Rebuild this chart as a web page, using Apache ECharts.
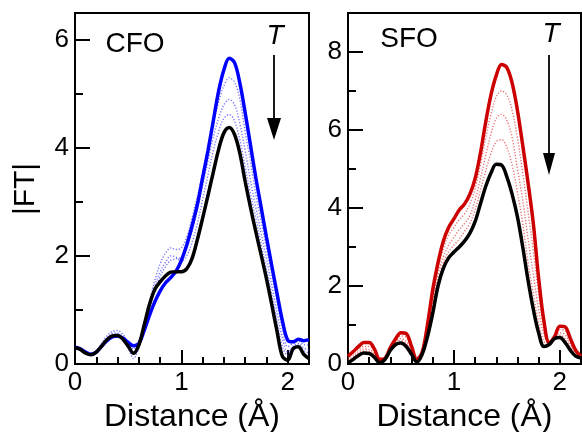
<!DOCTYPE html>
<html>
<head>
<meta charset="utf-8">
<script src="https://cdn.jsdelivr.net/npm/echarts@6/dist/echarts.min.js"></script>
<style>
html, body { margin: 0; padding: 0; background: #fff; }
#main { width: 582px; height: 432px; }
</style>
</head>
<body>
<div id="main"></div>
<script>
// distance grid (Å)
var dist = [0, 0.05, 0.1, 0.15, 0.2, 0.25, 0.3, 0.35, 0.4, 0.45, 0.5, 0.55, 0.6, 0.65, 0.7, 0.75, 0.8, 0.85, 0.9, 0.95,
            1.0, 1.05, 1.1, 1.15, 1.2, 1.25, 1.3, 1.35, 1.4, 1.45, 1.5, 1.55, 1.6, 1.65, 1.7, 1.75, 1.8, 1.85, 1.9, 1.95,
            2.0, 2.05, 2.1, 2.15, 2.2];

// CFO: lowest T (blue), highest T (black), a few in between (dotted)
var cfoBlue = [0.31, 0.28, 0.22, 0.18, 0.22, 0.33, 0.43, 0.5, 0.52, 0.48, 0.4, 0.34, 0.38, 0.62, 0.9, 1.15, 1.35, 1.5, 1.6, 1.72,
               1.92, 2.2, 2.55, 2.95, 3.45, 3.95, 4.5, 5.05, 5.45, 5.66, 5.58, 5.2, 4.65, 4.05, 3.45, 2.9, 2.35, 1.82, 1.3, 0.8,
               0.44, 0.41, 0.46, 0.43, 0.45];
var cfoBlack = [0.3, 0.27, 0.2, 0.17, 0.22, 0.33, 0.45, 0.52, 0.53, 0.46, 0.33, 0.2, 0.35, 0.72, 1.1, 1.38, 1.52, 1.63, 1.7, 1.71,
                1.71, 1.76, 1.95, 2.3, 2.7, 3.12, 3.55, 3.97, 4.28, 4.38, 4.25, 3.9, 3.38, 2.9, 2.45, 2.02, 1.58, 1.1, 0.6, 0.14,
                0.07, 0.28, 0.32, 0.18, 0.1];
var cfoMid1 = [0.3, 0.27, 0.21, 0.17, 0.23, 0.38, 0.52, 0.6, 0.62, 0.55, 0.4, 0.28, 0.4, 0.75, 1.15, 1.55, 1.85, 2.05, 2.15, 2.12,
               2.15, 2.35, 2.7, 3.1, 3.55, 4.0, 4.45, 4.85, 5.15, 5.3, 5.22, 4.9, 4.3, 3.75, 3.15, 2.65, 2.15, 1.65, 1.15, 0.65,
               0.32, 0.38, 0.42, 0.36, 0.35];
var cfoMid2 = [0.3, 0.26, 0.2, 0.16, 0.22, 0.35, 0.48, 0.56, 0.57, 0.5, 0.35, 0.18, 0.32, 0.68, 1.05, 1.38, 1.62, 1.8, 1.92, 1.95,
               1.98, 2.15, 2.45, 2.85, 3.3, 3.75, 4.2, 4.55, 4.8, 4.9, 4.8, 4.45, 3.95, 3.4, 2.9, 2.42, 1.95, 1.45, 0.95, 0.48,
               0.22, 0.33, 0.38, 0.3, 0.25];
var cfoMid3 = [0.29, 0.26, 0.2, 0.17, 0.21, 0.32, 0.45, 0.53, 0.55, 0.47, 0.3, 0.1, 0.3, 0.7, 1.1, 1.45, 1.7, 1.88, 2.0, 1.98,
               1.9, 2.0, 2.25, 2.6, 3.05, 3.5, 3.95, 4.3, 4.55, 4.62, 4.5, 4.15, 3.65, 3.15, 2.7, 2.22, 1.75, 1.28, 0.78, 0.32,
               0.16, 0.3, 0.35, 0.25, 0.2];

// SFO: lowest T (red), highest T (black), a few in between (dotted)
var sfoRed = [0.2, 0.32, 0.45, 0.55, 0.55, 0.38, 0.12, 0.15, 0.42, 0.65, 0.8, 0.78, 0.45, 0.12, 0.3, 1.0, 1.9, 2.6, 3.15, 3.5,
              3.72, 3.95, 4.1, 4.35, 4.75, 5.4, 6.2, 6.9, 7.4, 7.68, 7.6, 7.2, 6.5, 5.6, 4.65, 3.6, 2.2, 1.1, 0.55, 0.7,
              0.97, 0.95, 0.65, 0.35, 0.2];
var sfoBlack = [0.03, 0.12, 0.22, 0.28, 0.27, 0.17, 0.03, 0.12, 0.35, 0.5, 0.54, 0.45, 0.25, 0.05, 0.25, 0.7, 1.3, 2.0, 2.45, 2.72,
                2.87, 3.0, 3.15, 3.35, 3.65, 4.1, 4.55, 4.9, 5.12, 5.1, 4.8, 4.35, 3.77, 3.0, 2.15, 1.4, 0.8, 0.45, 0.5, 0.65,
                0.68, 0.55, 0.35, 0.2, 0.15];
var sfoMid1 = [0.15, 0.27, 0.38, 0.45, 0.45, 0.32, 0.1, 0.13, 0.4, 0.6, 0.72, 0.68, 0.42, 0.1, 0.3, 0.92, 1.75, 2.45, 2.95, 3.3,
               3.5, 3.7, 3.85, 4.1, 4.5, 5.1, 5.8, 6.4, 6.85, 7.0, 6.9, 6.5, 5.8, 4.9, 3.9, 2.9, 1.8, 0.95, 0.52, 0.65,
               0.88, 0.85, 0.58, 0.32, 0.18];
var sfoMid2 = [0.1, 0.2, 0.32, 0.38, 0.37, 0.25, 0.07, 0.13, 0.38, 0.57, 0.65, 0.58, 0.35, 0.08, 0.28, 0.85, 1.6, 2.3, 2.75, 3.05,
               3.25, 3.45, 3.6, 3.8, 4.2, 4.75, 5.35, 5.9, 6.3, 6.4, 6.25, 5.8, 5.0, 4.2, 3.2, 2.3, 1.4, 0.75, 0.5, 0.65,
               0.8, 0.75, 0.5, 0.28, 0.17];
var sfoMid3 = [0.06, 0.15, 0.27, 0.33, 0.32, 0.21, 0.05, 0.12, 0.36, 0.53, 0.6, 0.52, 0.3, 0.06, 0.26, 0.78, 1.45, 2.15, 2.6, 2.88,
               3.05, 3.2, 3.4, 3.6, 3.95, 4.45, 4.95, 5.4, 5.7, 5.75, 5.55, 5.1, 4.4, 3.6, 2.6, 1.8, 1.05, 0.58, 0.48, 0.65,
               0.74, 0.65, 0.43, 0.24, 0.16];

var xLabels = [0, 1, 2];
var xMajor = [1, 2];
var xMinor = [0.2, 0.4, 0.6, 0.8, 1.2, 1.4, 1.6, 1.8];
var cfoYLabels = [0, 2, 4, 6];
var cfoYMinor = [1, 3, 5];
var sfoYLabels = [0, 2, 4, 6, 8];
var sfoYMinor = [1, 3, 5, 7];

var font = 'Liberation Sans, Arial, Helvetica, sans-serif';

function pts(ys) {
    return dist.map(function (x, i) { return [x, ys[i]]; });
}

function xAxes(gi) {
    return [
        {
            gridIndex: gi, type: 'value', position: 'bottom', min: 0, max: 2.2,
            axisLine: { lineStyle: { color: '#000', width: 2 } },
            splitLine: { show: false },
            axisTick: { inside: true, length: 14, customValues: xMajor, lineStyle: { color: '#000', width: 2 } },
            axisLabel: { customValues: xLabels, fontSize: 26, color: '#000', fontFamily: font, margin: 6 },
            name: 'Distance (Å)', nameLocation: 'middle', nameGap: 36,
            nameTextStyle: { fontSize: 32, color: '#000', fontFamily: font }
        },
        {
            gridIndex: gi, type: 'value', position: 'bottom', min: 0, max: 2.2,
            axisLine: { show: false }, splitLine: { show: false },
            axisTick: { inside: true, length: 7, customValues: xMinor, lineStyle: { color: '#000', width: 2 } },
            axisLabel: { show: false }
        }
    ];
}

function yAxes(gi, max, labels, minor) {
    return [
        {
            gridIndex: gi, type: 'value', position: 'left', min: 0, max: max,
            axisLine: { show: true, lineStyle: { color: '#000', width: 2 } },
            splitLine: { show: false },
            axisTick: { show: true, inside: true, length: 15, customValues: labels, lineStyle: { color: '#000', width: 2 } },
            axisLabel: { customValues: labels, fontSize: 26, color: '#000', fontFamily: font, margin: 6 }
        },
        {
            gridIndex: gi, type: 'value', position: 'left', min: 0, max: max,
            axisLine: { show: false }, splitLine: { show: false },
            axisTick: { show: true, inside: true, length: 8, customValues: minor, lineStyle: { color: '#000', width: 2 } },
            axisLabel: { show: false }
        }
    ];
}

function dotted(name, gi, ys, color) {
    return {
        name: name, type: 'line', xAxisIndex: gi * 2, yAxisIndex: gi * 2, data: pts(ys),
        showSymbol: false, smooth: 0.35, silent: true,
        lineStyle: { color: color, width: 1.4, type: [1.2, 1.8] }
    };
}

function solid(name, gi, ys, color) {
    return {
        name: name, type: 'line', xAxisIndex: gi * 2, yAxisIndex: gi * 2, data: pts(ys),
        showSymbol: false, smooth: 0.35,
        lineStyle: { color: color, width: 3.5 }
    };
}

var blueDot = 'rgba(70,70,255,0.75)';
var redDot = 'rgba(225,50,50,0.7)';

var chart = echarts.init(document.getElementById('main'), null, { renderer: 'canvas' });
chart.setOption({
    animation: false,
    backgroundColor: '#fff',
    grid: [
        { left: 75, top: 13, width: 234, height: 351, show: true, borderColor: '#000', borderWidth: 2, outerBoundsMode: 'none' },
        { left: 348, top: 13, width: 233, height: 351, show: true, borderColor: '#000', borderWidth: 2, outerBoundsMode: 'none' }
    ],
    xAxis: xAxes(0).concat(xAxes(1)),
    yAxis: yAxes(0, 6.5, cfoYLabels, cfoYMinor).concat(yAxes(1, 9, sfoYLabels, sfoYMinor)),
    series: [
        dotted('CFO mid 1', 0, cfoMid1, blueDot),
        dotted('CFO mid 2', 0, cfoMid2, blueDot),
        dotted('CFO mid 3', 0, cfoMid3, blueDot),
        solid('CFO low T', 0, cfoBlue, '#0000ff'),
        solid('CFO high T', 0, cfoBlack, '#000'),
        dotted('SFO mid 1', 1, sfoMid1, redDot),
        dotted('SFO mid 2', 1, sfoMid2, redDot),
        dotted('SFO mid 3', 1, sfoMid3, redDot),
        solid('SFO low T', 1, sfoRed, '#cc0000'),
        solid('SFO high T', 1, sfoBlack, '#000')
    ],
    graphic: [
        { type: 'text', x: 26, y: 189, rotation: Math.PI / 2,
          style: { text: '|FT|', fontSize: 30, fontFamily: font, fill: '#000', align: 'center', verticalAlign: 'middle' } },
        { type: 'text', x: 135, y: 44,
          style: { text: 'CFO', fontSize: 28, fontFamily: font, fill: '#000', align: 'center', verticalAlign: 'middle' } },
        { type: 'text', x: 409, y: 39,
          style: { text: 'SFO', fontSize: 28, fontFamily: font, fill: '#000', align: 'center', verticalAlign: 'middle' } },
        { type: 'text', x: 275, y: 36,
          style: { text: 'T', fontSize: 28, fontStyle: 'italic', fontFamily: font, fill: '#000', align: 'center', verticalAlign: 'middle' } },
        { type: 'text', x: 551, y: 34,
          style: { text: 'T', fontSize: 28, fontStyle: 'italic', fontFamily: font, fill: '#000', align: 'center', verticalAlign: 'middle' } },
        // temperature arrows
        { type: 'line', shape: { x1: 274, y1: 55, x2: 274, y2: 122 }, style: { stroke: '#000', lineWidth: 1.8 } },
        { type: 'polygon', shape: { points: [[267, 118], [281, 118], [274, 140]] }, style: { fill: '#000' } },
        { type: 'line', shape: { x1: 549, y1: 55, x2: 549, y2: 157 }, style: { stroke: '#000', lineWidth: 1.8 } },
        { type: 'polygon', shape: { points: [[543, 153], [555, 153], [549, 175]] }, style: { fill: '#000' } }
    ]
});
</script>
</body>
</html>
